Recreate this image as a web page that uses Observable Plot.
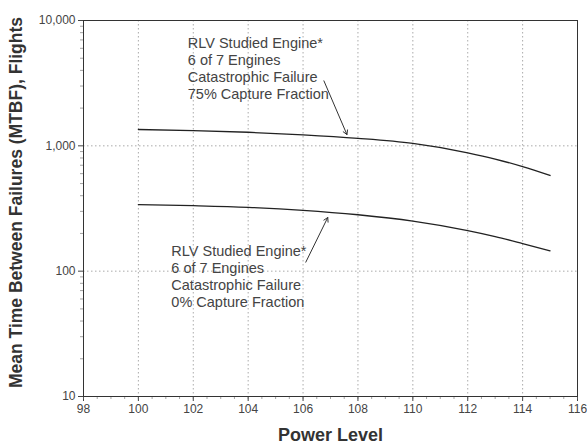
<!DOCTYPE html>
<html><head><meta charset="utf-8">
<script src="https://cdn.jsdelivr.net/npm/d3@7"></script>
<script src="https://cdn.jsdelivr.net/npm/@observablehq/plot@0.6"></script>
<style>body{margin:0;background:#fff}</style>
</head><body><div id="chart"></div>
<script>
const powerLevels = [100, 102, 104, 106, 108, 110, 112, 113, 114, 115];
const mtbf75 = [1350, 1322, 1283, 1225, 1148, 1045, 880, 785, 682, 580];
const mtbf0 = [340, 333, 323, 306, 282, 251, 211, 189, 166, 145];
const xTicks = [98, 100, 102, 104, 106, 108, 110, 112, 114, 116];
const yTicks = [10, 100, 1000, 10000];
const annoText = [
  "RLV Studied Engine*\n6 of 7 Engines\nCatastrophic Failure\n75% Capture Fraction",
  "RLV Studied Engine*\n6 of 7 Engines\nCatastrophic Failure\n0% Capture Fraction"
];
const annoX = [101.8, 101.2];
const annoY = [7500, 166];
const arrowX1 = [106.76, 106.1];
const arrowY1 = [3300, 118];
const arrowX2 = [107.6, 106.9];
const arrowY2 = [1230, 268];

const line75 = powerLevels.map((p, i) => ({p, v: mtbf75[i]}));
const line0 = powerLevels.map((p, i) => ({p, v: mtbf0[i]}));
const annos = annoText.map((t, i) => ({t, x: annoX[i], y: annoY[i]}));
const arrows = arrowX1.map((x, i) => ({x1: x, y1: arrowY1[i], x2: arrowX2[i], y2: arrowY2[i]}));
const xMinor = d3.range(98, 116.01, 0.5);
const yMinor = [];
for (const d of [10, 100, 1000]) for (let k = 2; k <= 9; k++) yMinor.push(d * k);

const chart = Plot.plot({
  width: 587, height: 446,
  marginLeft: 83, marginRight: 10, marginTop: 20, marginBottom: 50,
  style: {fontFamily: "'Liberation Sans', Arial, sans-serif", fontSize: "12px", color: "#444", background: "#fff", overflow: "visible"},
  x: {domain: [98, 116], label: null},
  y: {type: "log", domain: [10, 10000], label: null},
  marks: [
    Plot.gridX(xTicks.slice(1, -1), {stroke: "#888", strokeOpacity: 0.7, strokeDasharray: "1.5,2.5"}),
    Plot.gridY([100, 1000], {stroke: "#888", strokeOpacity: 0.7, strokeDasharray: "1.5,2.5"}),
    Plot.axisX(xTicks, {tickSize: 5, tickPadding: 3, fill: "#444", fontSize: 12, label: null}),
    Plot.axisX(xMinor, {tickSize: 3, text: null, stroke: "#666", strokeWidth: 0.6, label: null}),
    Plot.axisY(yTicks, {tickSize: 5, tickPadding: 3, tickFormat: d3.format(","), fill: "#444", fontSize: 12, label: null}),
    Plot.axisY(yMinor, {tickSize: 3, text: null, stroke: "#666", strokeWidth: 0.6, label: null}),
    Plot.frame({stroke: "#333", strokeWidth: 1}),
    Plot.line(line75, {x: "p", y: "v", curve: "monotone-x", stroke: "#222", strokeWidth: 1.3}),
    Plot.line(line0, {x: "p", y: "v", curve: "monotone-x", stroke: "#222", strokeWidth: 1.3}),
    Plot.arrow(arrows, {x1: "x1", y1: "y1", x2: "x2", y2: "y2", stroke: "#333", strokeWidth: 1, headLength: 7}),
    Plot.text(annos, {x: "x", y: "y", text: "t", textAnchor: "start", lineAnchor: "top", lineHeight: 1.17, fontSize: 14.5, fill: "#444"}),
    Plot.text(["Mean Time Between Failures (MTBF), Flights"], {frameAnchor: "left", textAnchor: "middle", dx: -67, dy: -6, rotate: -90, fontSize: 17.5, fontWeight: "bold", fill: "#333"}),
    Plot.text(["Power Level"], {frameAnchor: "bottom", dy: 44, fontSize: 18, fontWeight: "bold", fill: "#333"})
  ]
});
document.getElementById("chart").appendChild(chart);
</script>
</body></html>
